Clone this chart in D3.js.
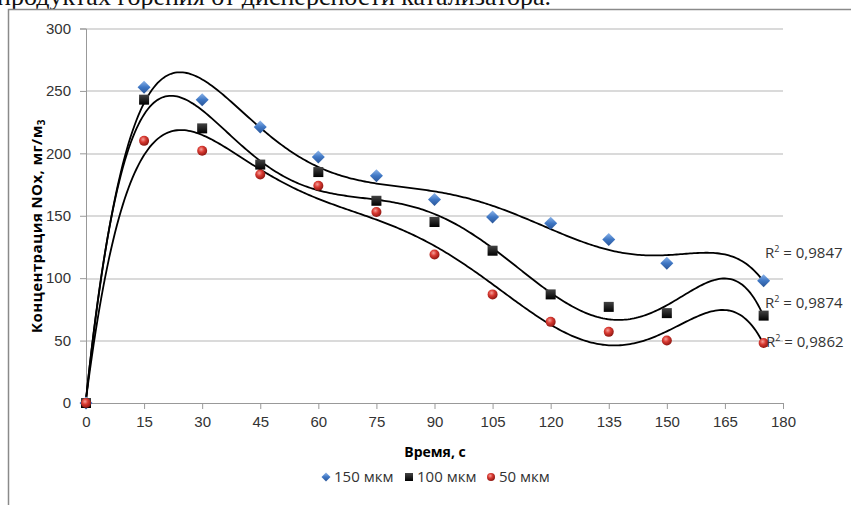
<!DOCTYPE html>
<html>
<head>
<meta charset="utf-8">
<script src="https://cdn.jsdelivr.net/npm/d3@7"></script>
<style>
  body { margin: 0; background: #fff; }
  svg { display: block; font-family: "Open Sans", sans-serif; }
  .tick text { font-size: 15px; fill: #333; }
</style>
</head>
<body>
<div id="chart"></div>
<script>
// time, s
const times = [0, 15, 30, 45, 60, 75, 90, 105, 120, 135, 150, 175];
const series150 = [0, 253, 243, 221, 197, 182, 163, 149, 144, 131, 112, 98];
const series100 = [0, 243, 220, 191, 185, 162, 145, 122, 87, 77, 72, 70];
const series50 = [0, 210, 202, 183, 174, 153, 119, 87, 65, 57, 50, 48];
const seriesNames = ["150 мкм", "100 мкм", "50 мкм"];
const r2Labels = ["0,9847", "0,9874", "0,9862"];
const xTicks = d3.range(0, 181, 15);
const yTicks = d3.range(0, 301, 50);

const W = 851, H = 505;
const margin = { top: 28.5, right: 68, bottom: 102, left: 86 };
const width = W - margin.left - margin.right;
const height = H - margin.top - margin.bottom;

const svg = d3.select('#chart')
  .append('svg')
    .attr('width', W)
    .attr('height', H);

// caption line cut off by the frame
svg.append('text')
  .attr('x', -3).attr('y', 5)
  .style('font-family', '"Liberation Serif", serif')
  .style('font-size', '26px')
  .attr('fill', '#111')
  .text('продуктах горения от дисперсности катализатора.');

// chart frame
svg.append('path')
  .attr('d', `M8.5,${H}V9.5H${W}`)
  .attr('fill', '#fff')
  .attr('stroke', '#8a8a8a')
  .attr('stroke-width', 1.5);

const defs = svg.append('defs');
const blueGrad = defs.append('linearGradient').attr('id', 'blueGrad')
  .attr('x1', 0).attr('y1', 0).attr('x2', 0).attr('y2', 1);
blueGrad.append('stop').attr('offset', '0%').attr('stop-color', '#8db5ea');
blueGrad.append('stop').attr('offset', '50%').attr('stop-color', '#3f77c4');
blueGrad.append('stop').attr('offset', '100%').attr('stop-color', '#2a5597');
const redGrad = defs.append('radialGradient').attr('id', 'redGrad')
  .attr('cx', '40%').attr('cy', '35%').attr('r', '65%');
redGrad.append('stop').attr('offset', '0%').attr('stop-color', '#f4a09a');
redGrad.append('stop').attr('offset', '45%').attr('stop-color', '#d93a32');
redGrad.append('stop').attr('offset', '100%').attr('stop-color', '#8e1712');
const blackGrad = defs.append('linearGradient').attr('id', 'blackGrad')
  .attr('x1', 0).attr('y1', 0).attr('x2', 0).attr('y2', 1);
blackGrad.append('stop').attr('offset', '0%').attr('stop-color', '#444');
blackGrad.append('stop').attr('offset', '100%').attr('stop-color', '#000');

const g = svg.append('g')
  .attr('transform', `translate(${margin.left},${margin.top})`);

const x = d3.scaleLinear().domain([0, 180]).range([0, width]);
const y = d3.scaleLinear().domain([0, 300]).range([height, 0]);

// gridlines
g.append('g')
  .selectAll('line')
  .data(yTicks.filter(d => d > 0))
  .join('line')
    .attr('x1', 0).attr('x2', width)
    .attr('y1', d => Math.round(y(d)) + 0.5).attr('y2', d => Math.round(y(d)) + 0.5)
    .attr('stroke', '#b5b5b5');

const yAxis = d3.axisLeft(y).tickValues(yTicks).tickSize(6).tickPadding(9);
g.append('g')
  .call(yAxis)
  .call(a => a.select('.domain').attr('stroke', '#999'))
  .call(a => a.selectAll('.tick line').attr('stroke', '#999'));

const xAxis = d3.axisBottom(x).tickValues(xTicks).tickSize(6).tickPadding(7);
g.append('g')
  .attr('transform', `translate(0,${height})`)
  .call(xAxis)
  .call(a => a.select('.domain').attr('stroke', '#999'))
  .call(a => a.selectAll('.tick line').attr('stroke', '#999'));

// axis titles
svg.append('text')
  .attr('x', 435).attr('y', 457)
  .attr('text-anchor', 'middle')
  .style('font-size', '14px').style('font-weight', 'bold')
  .text('Время, с');

const yTitle = svg.append('text')
  .attr('transform', 'translate(42,226) rotate(-90)')
  .attr('text-anchor', 'middle')
  .style('font-size', '15px').style('font-weight', 'bold')
  .style('letter-spacing', '0.4px');
yTitle.append('tspan').text('Концентрация NOx, мг/м');
yTitle.append('tspan').attr('dy', 3).style('font-size', '10px').text('3');

// polynomial (order 6) least squares trendline
function polyFit(xs, ys, deg) {
  const s = 180;
  const n = deg + 1;
  const A = Array.from({ length: n }, () => new Array(n + 1).fill(0));
  xs.forEach((xv, k) => {
    const t = xv / s;
    for (let i = 0; i < n; i++) {
      for (let j = 0; j < n; j++) A[i][j] += Math.pow(t, i + j);
      A[i][n] += Math.pow(t, i) * ys[k];
    }
  });
  for (let c = 0; c < n; c++) {
    let p = c;
    for (let r = c + 1; r < n; r++) if (Math.abs(A[r][c]) > Math.abs(A[p][c])) p = r;
    [A[c], A[p]] = [A[p], A[c]];
    for (let r = 0; r < n; r++) {
      if (r === c) continue;
      const f = A[r][c] / A[c][c];
      for (let k = c; k <= n; k++) A[r][k] -= f * A[c][k];
    }
  }
  const coef = A.map((row, i) => row[n] / row[i]);
  return xv => coef.reduce((acc, cf, i) => acc + cf * Math.pow(xv / s, i), 0);
}

const allSeries = [series150, series100, series50];
const line = d3.line().x(d => x(d[0])).y(d => y(d[1]));
const fine = d3.range(0, 175.01, 0.5);

allSeries.forEach(vals => {
  const f = polyFit(times, vals, 6);
  g.append('path')
    .datum(fine.map(t => [t, f(t)]))
    .attr('fill', 'none')
    .attr('stroke', '#000')
    .attr('stroke-width', 1.8)
    .attr('d', line);
});

// markers
function drawMarker(sel, type, s) {
  if (type === 0) {
    sel.append('path')
      .attr('d', `M0,${-s}L${s},0L0,${s}L${-s},0Z`)
      .attr('fill', 'url(#blueGrad)');
  } else if (type === 1) {
    sel.append('rect')
      .attr('x', -s).attr('y', -s).attr('width', 2 * s).attr('height', 2 * s)
      .attr('fill', 'url(#blackGrad)');
  } else {
    sel.append('circle').attr('r', s).attr('fill', 'url(#redGrad)');
  }
}

const markerSize = [6.5, 5, 5];
allSeries.forEach((vals, si) => {
  const pts = g.append('g')
    .selectAll('g')
    .data(vals.map((v, i) => [times[i], v]))
    .join('g')
      .attr('transform', d => `translate(${x(d[0])},${y(d[1])})`);
  pts.each(function () { drawMarker(d3.select(this), si, markerSize[si]); });
});

// R² labels
const r2Pos = [[765, 258], [765, 308], [766, 347]];
r2Labels.forEach((lab, i) => {
  const t = svg.append('text')
    .attr('x', r2Pos[i][0]).attr('y', r2Pos[i][1])
    .style('font-size', '15px').attr('fill', '#333');
  t.append('tspan').text('R');
  t.append('tspan').attr('dy', -6).style('font-size', '9px').text('2');
  t.append('tspan').attr('dy', 6).text(' = ' + lab);
});

// legend
const legendX = [326, 409, 491];
const legendSize = [4.5, 4, 4];
seriesNames.forEach((name, i) => {
  const lg = svg.append('g').attr('transform', `translate(${legendX[i]},477)`);
  drawMarker(lg, i, legendSize[i]);
  lg.append('text')
    .attr('x', 8).attr('y', 5)
    .style('font-size', '15px').attr('fill', '#333')
    .text(name);
});
</script>
</body>
</html>
